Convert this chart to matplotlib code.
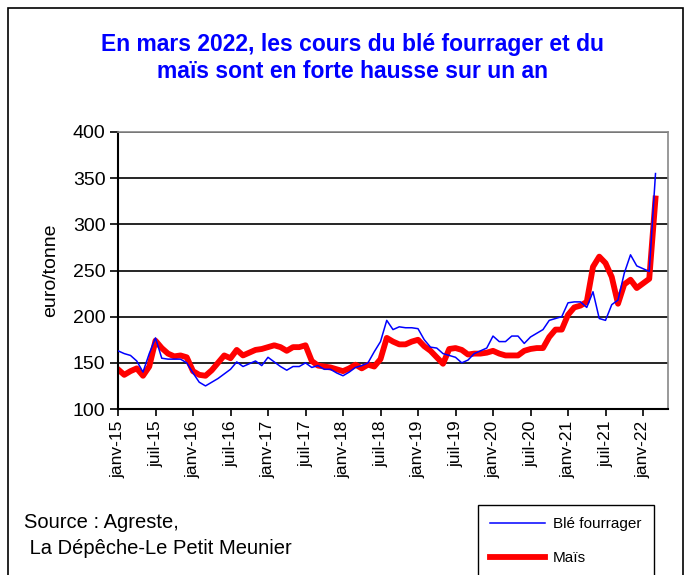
import numpy as np
import matplotlib
matplotlib.use("Agg")
import matplotlib.pyplot as plt
from matplotlib.patches import Rectangle

plt.rcParams['font.family'] = ['Liberation Sans', 'DejaVu Sans']

# monthly prices, janv-15 .. mars-22 (euro/tonne)
ble = [163, 160, 158, 152, 140, 160, 177, 155, 154, 154, 154, 150,
       139, 129, 125, 129, 133, 138, 143, 151, 146, 149, 152, 147,
       156, 151, 146, 142, 146, 146, 150, 145, 147, 143, 143, 139,
       136, 140, 145, 147, 150, 162, 173, 196, 186, 189, 188, 188,
       187, 175, 167, 166, 160, 158, 156, 150, 153, 160, 163, 166,
       179, 173, 173, 179, 179, 171, 178, 182, 186, 196, 198, 200,
       215, 216, 216, 210, 227, 198, 196, 213, 218, 247, 267, 255,
       252, 249, 355]
mais = [143, 137, 141, 144, 136, 146, 174, 166, 160, 157, 158, 156,
        141, 137, 136, 142, 150, 158, 155, 164, 158, 161, 164, 165,
        167, 169, 167, 163, 167, 167, 169, 152, 147, 146, 145, 143,
        141, 144, 148, 144, 148, 146, 154, 177, 173, 170, 170, 173,
        175, 168, 163, 156, 149, 165, 166, 164, 159, 160, 160, 161,
        163, 160, 158, 158, 158, 163, 165, 166, 166, 178, 186, 186,
        202, 210, 212, 216, 254, 265, 258, 243, 214, 235, 240, 231,
        236, 241, 328]
tick_labels = ['janv-15', 'juil-15', 'janv-16', 'juil-16', 'janv-17', 'juil-17',
               'janv-18', 'juil-18', 'janv-19', 'juil-19', 'janv-20', 'juil-20',
               'janv-21', 'juil-21', 'janv-22']

W, H = 691, 575
fig = plt.figure(figsize=(W / 100, H / 100), dpi=100)

# outer frame
fig.patches.append(Rectangle((8 / W, -0.05), (683 - 8) / W, 1 - 8 / H + 0.05,
                             transform=fig.transFigure, fill=False,
                             edgecolor='black', linewidth=1.2))

ax = fig.add_axes([118 / W, 1 - 409 / H, 550 / W, 277 / H])
x = np.arange(len(ble))
ax.plot(x, ble, color='#0000ff', lw=1.1, label='Blé fourrager', zorder=3)
ax.plot(x, mais, color='#ff0000', lw=4.2, label='Maïs', zorder=2,
        solid_joinstyle='round')

ax.set_xlim(0, 88)
ax.set_ylim(100, 400)
ax.set_yticks(range(100, 401, 50))
ax.set_xticks(range(0, 85, 6))
ax.set_xticklabels(tick_labels, rotation=90, fontsize=12.5)
ax.tick_params(axis='y', labelsize=14, direction='out', length=6, width=1.2, pad=3)
ax.tick_params(axis='x', direction='out', length=5, width=1.2)
ax.yaxis.grid(True, color='black', lw=1.2)
ax.set_axisbelow(True)
for s in ['top', 'right']:
    ax.spines[s].set_color('#888888')
    ax.spines[s].set_linewidth(1.2)
for s in ['left', 'bottom']:
    ax.spines[s].set_linewidth(1.5)
ax.set_ylabel('euro/tonne', fontsize=14, labelpad=10)

fig.text(0.51, 1 - 45 / H, 'En mars 2022, les cours du blé fourrager et du',
         ha='center', va='center', color='#0000ff', fontsize=16.5, fontweight='bold')
fig.text(0.51, 1 - 72 / H, 'maïs sont en forte hausse sur un an',
         ha='center', va='center', color='#0000ff', fontsize=16.5, fontweight='bold')

fig.text(24 / W, 1 - 523 / H, 'Source : Agreste,', fontsize=14.5, va='center')
fig.text(24 / W, 1 - 549 / H, ' La Dépêche-Le Petit Meunier', fontsize=14.5, va='center')

fig.legend(loc='upper left', bbox_to_anchor=(478 / W, 1 - 505 / H),
           fontsize=11, frameon=True, fancybox=False, edgecolor='black',
           framealpha=1, handlelength=3.6, handletextpad=0.5,
           labelspacing=1.3, borderpad=0.8, borderaxespad=0)

fig.savefig('out.png', dpi=100)
